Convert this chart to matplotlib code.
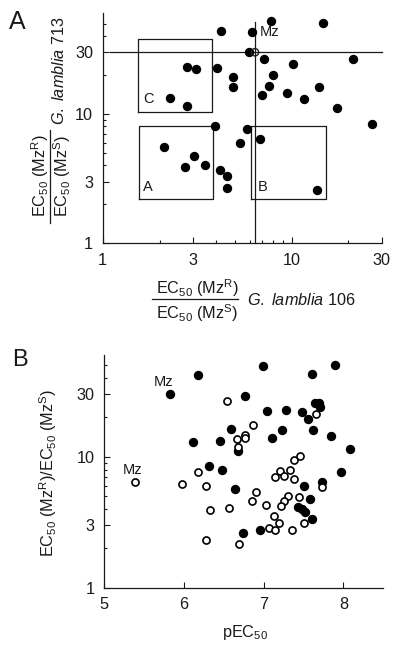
import matplotlib
matplotlib.use("Agg")
from matplotlib import pyplot as plt
from matplotlib.ticker import FixedLocator, FixedFormatter, NullFormatter
from matplotlib.lines import Line2D

plt.rcParams['font.family'] = ['Liberation Sans', 'DejaVu Sans']
plt.rcParams['mathtext.fontset'] = 'custom'
plt.rcParams['mathtext.rm'] = 'Liberation Sans'
plt.rcParams['mathtext.it'] = 'Liberation Sans:italic'
plt.rcParams['mathtext.bf'] = 'Liberation Sans:bold'

INK = '#1a1a1a'
FS = 11.7

# ---------- panel A data (ratio 106 vs ratio 713) ----------
a_x = [4.22, 6.17, 7.74, 14.6, 5.95, 2.80, 3.10, 4.03, 7.14, 10.2, 21.2,
       4.92, 4.92, 7.94, 7.62, 6.95, 9.45, 11.7, 13.9, 17.3, 26.6, 2.28,
       2.78, 3.91, 5.81, 5.31, 6.78, 2.12, 3.06, 2.73, 3.50, 4.20, 4.57,
       4.55, 13.7]
a_y = [44.1, 43.3, 52.7, 50.8, 29.9, 23.2, 22.3, 22.8, 26.4, 24.4, 26.8,
       19.2, 16.1, 20.0, 16.4, 14.1, 14.5, 13.0, 16.1, 11.1, 8.41, 13.2,
       11.5, 8.02, 7.64, 5.94, 6.35, 5.56, 4.74, 3.89, 4.03, 3.71, 3.29,
       2.67, 2.56]
mz_a = (6.4, 30)

# quadrant boxes
box_names = ['C', 'A', 'B']
box_x0 = [1.54, 1.55, 6.12]
box_x1 = [3.80, 3.83, 15.2]
box_y0 = [10.4, 2.20, 2.20]
box_y1 = [37.9, 8.06, 8.06]

# ---------- panel B data (pEC50 vs ratio) ----------
filled_x = [5.82, 6.18, 6.99, 7.60, 7.90, 6.76, 7.04, 7.28, 7.48, 7.55,
            7.64, 7.69, 7.70, 6.59, 7.23, 7.62, 7.85, 7.10, 6.11, 6.45,
            6.68, 8.08, 6.31, 6.48, 7.97, 7.73, 7.51, 6.64, 7.58, 7.43,
            7.48, 7.52, 7.60, 6.74, 6.95]
filled_y = [30.1, 42.0, 49.2, 42.8, 50.7, 29.2, 22.4, 22.8, 22.1, 19.4,
            26.0, 25.8, 24.0, 16.3, 16.0, 16.0, 14.4, 14.0, 12.9, 13.2,
            11.0, 11.4, 8.5, 8.0, 7.6, 6.45, 6.0, 5.63, 4.78, 4.13,
            3.99, 3.80, 3.36, 2.64, 2.74]
open_x = [5.39, 6.54, 7.66, 6.86, 6.67, 6.76, 6.76, 6.68, 7.38, 7.45,
          6.17, 7.20, 7.33, 7.14, 7.26, 7.38, 7.73, 5.97, 6.28, 6.90,
          6.85, 7.30, 7.26, 7.44, 7.22, 7.03, 6.56, 6.33, 7.13, 7.19,
          7.50, 7.06, 7.14, 7.36, 6.27, 6.69]
open_y = [6.44, 26.8, 21.3, 17.5, 13.6, 14.6, 14.0, 11.9, 9.4, 10.2,
          7.7, 7.8, 8.0, 7.0, 7.16, 6.8, 5.87, 6.18, 6.0, 5.37,
          4.59, 5.0, 4.59, 4.95, 4.2, 4.28, 4.08, 3.92, 3.55, 3.12,
          3.10, 2.85, 2.77, 2.74, 2.30, 2.15]

log_major = [1, 3, 10, 30]
log_minor = [2, 4, 5, 6, 7, 8, 9, 20, 40, 50]


def style_axes(ax):
    for s in ['top', 'right']:
        ax.spines[s].set_visible(False)
    for s in ['left', 'bottom']:
        ax.spines[s].set_linewidth(0.9)
        ax.spines[s].set_color(INK)
    ax.tick_params(which='both', direction='in', colors=INK, width=0.8,
                   labelsize=FS, pad=7)
    ax.tick_params(which='major', length=4)
    ax.tick_params(which='minor', length=2.5)


def log_axis(axis):
    axis.set_major_locator(FixedLocator(log_major))
    axis.set_major_formatter(FixedFormatter([str(v) for v in log_major]))
    axis.set_minor_locator(FixedLocator(log_minor))
    axis.set_minor_formatter(NullFormatter())


fig = plt.figure(figsize=(4.0, 6.51), dpi=100)
W, H = 400.0, 651.0

# ================= panel A =================
axA = fig.add_axes([102.7 / W, 1 - 243.3 / H, 279 / W, 230 / H])
axA.set_xscale('log')
axA.set_yscale('log')
axA.set_xlim(1, 30)
axA.set_ylim(1, 60)
style_axes(axA)
log_axis(axA.xaxis)
log_axis(axA.yaxis)

for x0, x1, y0, y1 in zip(box_x0, box_x1, box_y0, box_y1):
    axA.plot([x0, x1, x1, x0, x0], [y0, y0, y1, y1, y0], color=INK, lw=0.9,
             clip_on=False)
axA.text(1.74, 13.1, box_names[0], fontsize=10.5, color=INK,
         ha='center', va='center')
axA.text(1.74, 2.73, box_names[1], fontsize=10.5, color=INK,
         ha='center', va='center')
axA.text(7.06, 2.73, box_names[2], fontsize=10.5, color=INK,
         ha='center', va='center')

axA.plot([mz_a[0], mz_a[0]], [1, 51], color=INK, lw=0.9, clip_on=False)
axA.plot([1.093, 30], [mz_a[1], mz_a[1]], color=INK, lw=0.9, clip_on=False)

axA.scatter(a_x, a_y, s=33, color='black', zorder=3, clip_on=False)
axA.scatter([mz_a[0]], [mz_a[1]], s=28, facecolor='none', edgecolor=INK,
            linewidth=1.0, zorder=4, clip_on=False)
axA.text(6.75, 43, 'Mz', fontsize=10.5, color=INK, ha='left', va='center')

# x label of A: fraction + strain name
num = r'EC$_{50}$ (Mz$^{\rm R}$)'
den = r'EC$_{50}$ (Mz$^{\rm S}$)'
fig.text(197.5 / W, 1 - 288 / H, num, fontsize=FS, color=INK,
         ha='center', va='center')
fig.text(197.5 / W, 1 - 313 / H, den, fontsize=FS, color=INK,
         ha='center', va='center')
fig.add_artist(Line2D([152 / W, 238 / W], [1 - 299 / H, 1 - 299 / H],
                      color=INK, lw=0.9))
fig.text(247 / W, 1 - 300 / H, r'$\mathit{G.\ lamblia}$ 106', fontsize=FS,
         color=INK, ha='left', va='center')

# y label of A
fig.text(40 / W, 1 - 176 / H, num, fontsize=FS, color=INK, rotation=90,
         ha='center', va='center')
fig.text(62 / W, 1 - 176 / H, den, fontsize=FS, color=INK, rotation=90,
         ha='center', va='center')
fig.add_artist(Line2D([50 / W, 50 / W], [1 - 130 / H, 1 - 223 / H],
                      color=INK, lw=0.9))
fig.text(59 / W, 1 - 71 / H, r'$\mathit{G.\ lamblia}$ 713', fontsize=FS,
         color=INK, rotation=90, ha='center', va='center')

fig.text(17.7 / W, 1 - 22 / H, 'A', fontsize=18, color=INK,
         ha='center', va='center')

# ================= panel B =================
axB = fig.add_axes([104.3 / W, 1 - 587.7 / H, 279 / W, 232.7 / H])
axB.set_yscale('log')
axB.set_xlim(5, 8.5)
axB.set_ylim(1, 60)
style_axes(axB)
log_axis(axB.yaxis)
axB.set_xticks([5, 6, 7, 8])
axB.xaxis.set_minor_locator(FixedLocator([]))

axB.scatter(filled_x, filled_y, s=33, color='black', zorder=3, clip_on=False)
axB.scatter(open_x, open_y, s=26, facecolor='white', edgecolor='black',
            linewidth=1.2, zorder=4, clip_on=False)
axB.text(5.74, 37.4, 'Mz', fontsize=10.5, color=INK, ha='center', va='center')
axB.text(5.36, 8.0, 'Mz', fontsize=10.5, color=INK, ha='center', va='center')

fig.text(48 / W, 1 - 473 / H,
         r'EC$_{50}$ (Mz$^{\rm R}$)/EC$_{50}$ (Mz$^{\rm S}$)',
         fontsize=FS, color=INK, rotation=90, ha='center', va='center')
fig.text(245 / W, 1 - 632 / H, r'pEC$_{50}$', fontsize=FS, color=INK,
         ha='center', va='center')
fig.text(19.5 / W, 1 - 360.5 / H, 'B', fontsize=17, color=INK,
         ha='center', va='center')

fig.savefig('out.png', dpi=100)
